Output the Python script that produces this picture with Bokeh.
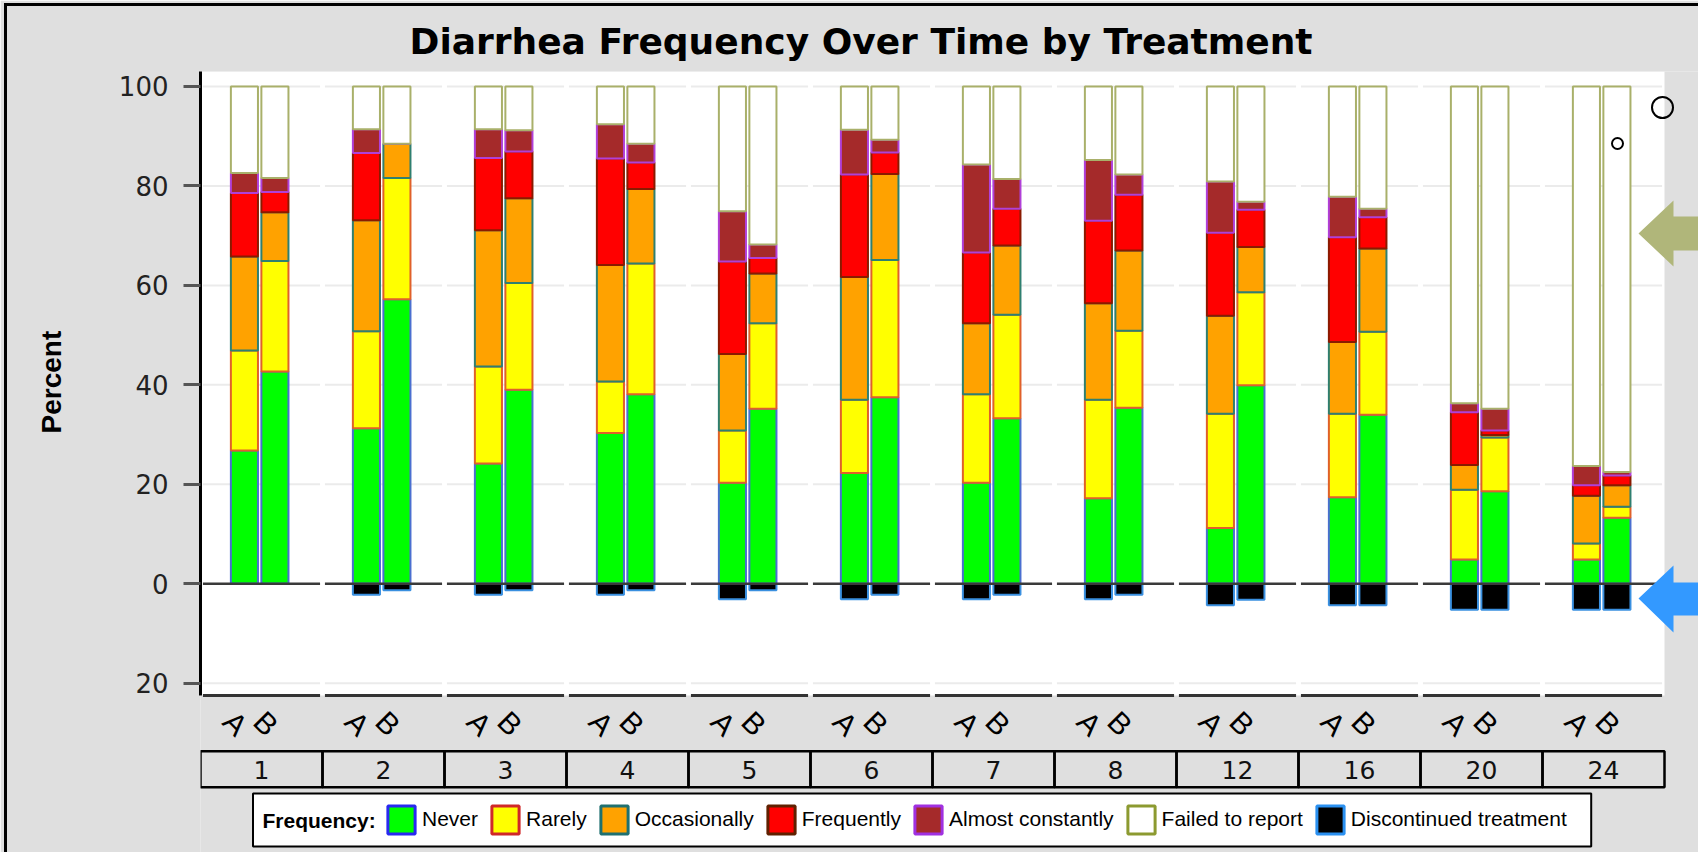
import math
from bokeh.plotting import figure
from bokeh.models import (ColumnDataSource, Range1d, FixedTicker, Legend, LegendItem, Title,
                          InlineStyleSheet)
from bokeh.embed import file_html
from bokeh.resources import INLINE
from bokeh.core.properties import value

# ---------------- data ----------------
weeks = ["1", "2", "3", "4", "5", "6", "7", "8", "12", "16", "20", "24"]
treatments = ["A", "B"]
categories = ["Never", "Rarely", "Occasionally", "Frequently",
              "Almost constantly", "Failed to report", "Discontinued treatment"]
# one value per bar: week1 A, week1 B, week2 A, week2 B, ...
never = [26.8, 42.7, 31.3, 57.2, 24.2, 39.0, 30.3, 38.1, 20.3, 35.2, 22.3, 37.5,
         20.3, 33.3, 17.2, 35.4, 11.2, 39.9, 17.4, 34.0, 4.9, 18.6, 4.9, 13.3]
rarely = [20.1, 22.2, 19.5, 24.4, 19.5, 21.5, 10.4, 26.3, 10.5, 17.2, 14.7, 27.6,
          17.8, 20.8, 19.8, 15.5, 23.0, 18.7, 16.8, 16.7, 14.0, 10.8, 3.2, 2.2]
occasionally = [18.9, 9.8, 22.3, 6.9, 27.4, 17.0, 23.4, 15.0, 15.4, 10.0, 24.7, 17.3,
                14.3, 13.9, 19.4, 16.1, 19.7, 9.1, 14.4, 16.7, 5.0, 0.5, 9.6, 4.3]
frequently = [12.8, 4.1, 13.5, 0.0, 14.5, 9.4, 21.4, 5.3, 18.6, 3.1, 20.6, 4.3,
              14.2, 7.4, 16.6, 11.2, 16.7, 7.5, 21.1, 6.3, 10.6, 0.9, 2.1, 2.0]
almost_constantly = [4.0, 2.8, 4.8, 0.0, 5.8, 4.3, 6.9, 3.8, 10.1, 2.7, 9.0, 2.6,
                     17.7, 6.0, 12.2, 4.1, 10.3, 1.6, 8.1, 1.7, 1.8, 4.4, 3.9, 0.7]
failed_to_report = [17.4, 18.4, 8.6, 11.5, 8.6, 8.8, 7.6, 11.5, 25.1, 31.8, 8.7, 10.7,
                    15.7, 18.6, 14.8, 17.7, 19.1, 23.2, 22.2, 24.6, 63.7, 64.8, 76.3, 77.5]
discontinued = [0.0, 0.0, 2.2, 1.3, 2.2, 1.3, 2.2, 1.3, 3.1, 1.3, 3.1, 2.2,
                3.1, 2.2, 3.1, 2.2, 4.3, 3.2, 4.3, 4.3, 5.2, 5.2, 5.2, 5.2]
y_ticks = [-20, 0, 20, 40, 60, 80, 100]

# ---------------- styles / layout constants ----------------
GREY = "#dfdfdf"
FILLS = ["#00ff00", "#ffff00", "#ffa200", "#ff0000", "#a52a2a", "#ffffff", "#000000"]
LINES = ["#4a6fd0", "#e0602a", "#2f7f70", "#8a1a00", "#b040d8", "#a9b06a", "#3a90e0"]
SWATCH_LINES = ["#2828f0", "#d02828", "#1f7070", "#602000", "#a030e0", "#8c9a30", "#2a90f0"]
SANS = "Liberation Sans"

W, H = 1698, 852
FRAME_LEFT, FRAME_TOP = 200, 71
GROUP_PX = 122.0      # pixel width of one week panel
ZERO_PX = 583.3       # page y of value 0
UNIT_PX = 4.9735      # pixels per percent
PLOT_BOTTOM_PX = 695


def sx(px):
    return (px - FRAME_LEFT) / GROUP_PX - 0.5


def sy(py):
    return (ZERO_PX - py) / UNIT_PX


n_groups = len(weeks)
bar_x = [g + off for g in range(n_groups) for off in (-0.14, 0.11)]
bar_lab = [t for _ in weeks for t in treatments]

src = ColumnDataSource(dict(
    x=bar_x, never=never, rarely=rarely, occasionally=occasionally,
    frequently=frequently, almost=almost_constantly, failed=failed_to_report,
    disc=[-d for d in discontinued],
))

Y_BOTTOM = sy(PLOT_BOTTOM_PX)
Y_TOP = sy(FRAME_TOP)

frame_css = InlineStyleSheet(css="""
:host { position: relative; }
:host::after {
  content: ""; position: absolute; left: 4px; top: 3px; right: -20px; bottom: -20px;
  border-style: solid; border-color: black; border-width: 3px 0 0 3px;
  pointer-events: none; z-index: 50;
}
""")

p = figure(width=W, height=H, x_range=Range1d(-0.5, sx(W)),
           y_range=Range1d(sy(H), Y_TOP),
           output_backend="svg", toolbar_location=None, x_axis_location=None,
           min_border_left=FRAME_LEFT, min_border_right=0,
           min_border_top=FRAME_TOP, min_border_bottom=0,
           background_fill_color=GREY, border_fill_color=GREY, outline_line_color=None,
           stylesheets=[frame_css])
p.grid.visible = False

# white data area
p.quad(left=[-0.5], right=[n_groups - 0.5], bottom=[Y_BOTTOM], top=[Y_TOP],
       fill_color="white", line_color=None, level="image")

# per-panel grid lines
gx0, gx1, gy = [], [], []
for t in y_ticks:
    if t == 0:
        continue
    for g in range(n_groups):
        gx0.append(g - 0.48); gx1.append(g + 0.48); gy.append(t)
p.segment(x0=gx0, x1=gx1, y0=gy, y1=gy, line_color="#ebebeb", line_width=2)

# bars
stack_names = ["never", "rarely", "occasionally", "frequently", "almost", "failed"]
p.vbar_stack(stack_names, x="x", width=0.222, source=src,
             fill_color=FILLS[:6], line_color=LINES[:6], line_width=2)
p.vbar(x="x", top=0, bottom="disc", width=0.222, source=src,
       fill_color=FILLS[6], line_color=LINES[6], line_width=2)

zx0 = [g - 0.48 for g in range(n_groups)]
zx1 = [g + 0.48 for g in range(n_groups)]
p.segment(x0=zx0, x1=zx1, y0=[0] * n_groups, y1=[0] * n_groups,
          line_color="#3a3a3a", line_width=2.5)
p.segment(x0=zx0, x1=zx1, y0=[Y_BOTTOM] * n_groups, y1=[Y_BOTTOM] * n_groups,
          line_color="#333333", line_width=3)

# decorations (circles and arrows at the right edge)
p.scatter(x=[sx(1662), sx(1617)], y=[sy(107), sy(143)], size=[21, 11],
          marker="circle", fill_color=None, line_color="black", line_width=2)
p.patch(x=[sx(v) for v in (1638, 1673, 1673, 1700, 1700, 1673, 1673)],
        y=[sy(v) for v in (233, 200, 216, 216, 250, 250, 266)],
        fill_color="#b0b67a", line_color=None)
p.patch(x=[sx(v) for v in (1638, 1673, 1673, 1700, 1700, 1673, 1673)],
        y=[sy(v) for v in (598, 565, 582, 582, 615, 615, 632)],
        fill_color="#3399ff", line_color=None)

# y axis
yax = p.yaxis[0]
yax.ticker = FixedTicker(ticks=y_ticks)
yax.major_label_overrides = {-20: "20"}
yax.bounds = (Y_BOTTOM, Y_TOP)
yax.axis_line_color = "black"
yax.axis_line_width = 3
yax.major_tick_out = 17
yax.major_tick_in = 0
yax.major_tick_line_width = 3
yax.major_tick_line_color = "#555555"
yax.minor_tick_line_color = None
yax.major_label_text_font = "DejaVu Sans"
yax.major_label_text_font_size = "26px"
yax.major_label_text_color = "#222222"
yax.major_label_standoff = 15
# blank spacer label widens the axis panel so "Percent" can sit further left
yax.axis_label = " "
yax.axis_label_text_font_size = "1px"
yax.axis_label_standoff = 13

p.add_layout(Title(text="Percent", align="left", offset=H - 433, standoff=63,
                   text_font=SANS, text_font_size="28px", text_font_style="bold",
                   text_color="black"), "left")

p.title.text = "Diarrhea Frequency Over Time by Treatment"
p.title.align = "left"
p.title.offset = 209
p.title.text_font = "DejaVu Sans"
p.title.text_font_size = "36px"
p.title.text_font_style = "bold"
p.title.text_color = "black"
p.title.standoff = 20

# treatment labels under each bar
p.text(x=bar_x, y=[sy(723)] * len(bar_x), text=bar_lab, angle=-math.pi / 4,
       x_offset=-9, text_align="center", text_baseline="middle",
       text_font=value(SANS), text_font_size="30px", text_color="black")

# week boxes
p.quad(left=[g - 0.5 for g in range(n_groups)], right=[g + 0.5 for g in range(n_groups)],
       top=[sy(750.7)] * n_groups, bottom=[sy(786.7)] * n_groups,
       fill_alpha=0, line_color="black", line_width=2.5)
p.text(x=list(range(n_groups)), y=[sy(769)] * n_groups, text=weeks,
       text_align="center", text_baseline="middle",
       text_font=value("DejaVu Sans"), text_font_size="25px", text_color="#111111")

# legend
p.quad(left=[sx(252.5)], right=[sx(1590.7)], top=[sy(793)], bottom=[sy(846)],
       fill_color="white", line_color="black", line_width=2)
p.text(x=[sx(262)], y=[sy(819.5)], text=["Frequency:"], text_align="left",
       text_baseline="middle", text_font=value(SANS), text_font_size="21px",
       text_font_style="bold", text_color="black")

items = []
for i, c in enumerate(categories):
    r = p.vbar(x=[0], top=[float("nan")], bottom=[float("nan")], width=0.1,
               fill_color=FILLS[i], line_color=SWATCH_LINES[i], line_width=3)
    items.append(LegendItem(label=c, renderers=[r]))
legend = Legend(items=items, orientation="horizontal",
                location=(384 - FRAME_LEFT, H - 836.7),
                glyph_width=34, glyph_height=35, label_standoff=4, spacing=10,
                padding=0, margin=0, border_line_color=None, background_fill_alpha=0,
                label_text_font=SANS, label_text_font_size="21px",
                label_text_color="black")
p.add_layout(legend)

open("out.html", "w").write(file_html(p, INLINE))
